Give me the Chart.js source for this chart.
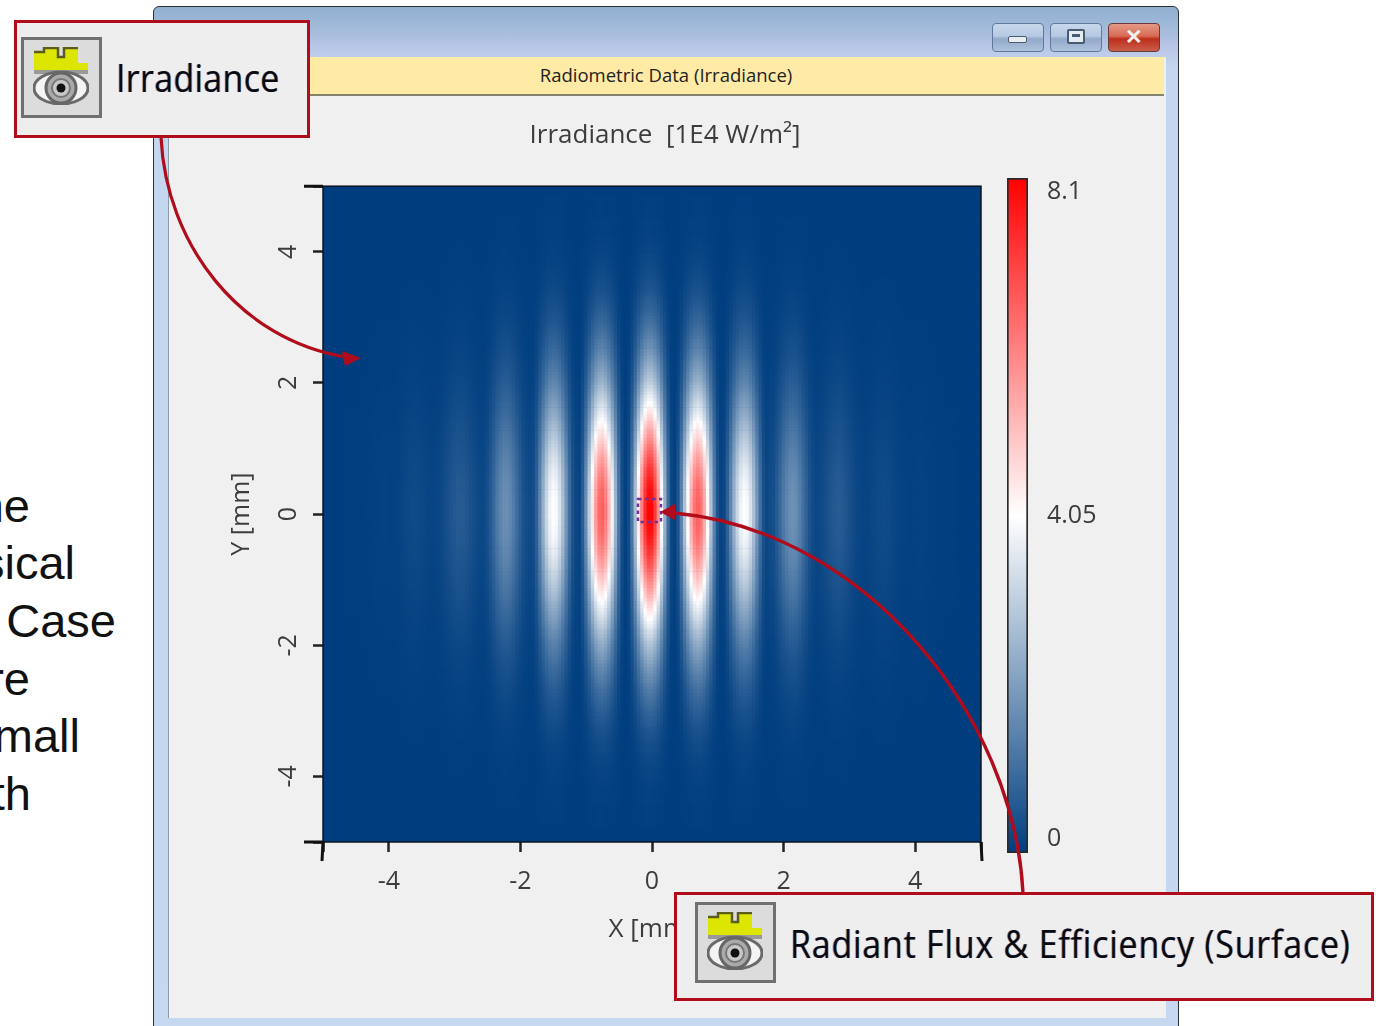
<!DOCTYPE html>
<html>
<head>
<meta charset="utf-8">
<script src="https://cdn.jsdelivr.net/npm/chart.js@4"></script>
<style>
html,body{margin:0;padding:0;background:#fff;width:1383px;height:1026px;overflow:hidden;font-family:"Open Sans",sans-serif}
.abs{position:absolute}
.win{left:153px;top:6px;width:1026px;height:1030px;box-sizing:border-box;border:1.5px solid #2c3136;border-radius:6px 6px 0 0;background:linear-gradient(#8fb0d0 0,#a9bedd 28px,#b7c4e6 38px,#c3d7ee 60px,#c6d8f0 100%)}
.body{left:168px;top:57px;width:997px;height:961px;background:#f0f0f0;border-left:1px solid #8d9aa8}
.strip{left:168px;top:57px;width:996px;height:37px;background:#ffeaa6;border-bottom:2px solid #85836c;text-align:center;font-size:18.5px;line-height:36px;color:#222}
.btn{top:23px;width:52px;height:29px;box-sizing:border-box;border:1.5px solid #5f7a9c;border-radius:4px;background:linear-gradient(#c8d8ec 0,#b5c9e2 45%,#92a9c8 55%,#aec3dc 100%)}
.btn.x{border-color:#6b3a3a;background:linear-gradient(#e59a85 0,#d66a55 45%,#bd2d1c 55%,#c9604a 100%)}
.cut{font-family:"Liberation Sans",sans-serif;font-size:47px;line-height:58px;color:#111;white-space:nowrap}
.box{box-sizing:border-box;border:3.5px solid #b00c1c;background:#eee}
.ico{box-sizing:border-box;border:3px solid #707070;background:#dcdcdc}
.lab{font-family:"Open Sans",sans-serif;font-size:34px;line-height:44px;color:#0a0a14;white-space:nowrap;transform:scaleY(1.14);transform-origin:left center;text-shadow:-.8px 0 rgba(60,120,220,.55),.8px 0 rgba(230,150,60,.55)}
</style>
</head>
<body>
<div class="abs win"></div>
<div class="abs body"></div>
<div class="abs strip">Radiometric Data (Irradiance)</div>
<div class="abs btn" style="left:992px"><div class="abs" style="left:15px;top:12px;width:19px;height:7px;background:#e8edf2;border:1.5px solid #4a5a70;border-radius:2px;box-sizing:border-box"></div></div>
<div class="abs btn" style="left:1050px"><div class="abs" style="left:16px;top:5px;width:18px;height:15px;border:2px solid #4a5a70;background:#e4ebf3;border-radius:2px;box-sizing:border-box"><div style="margin:3px;height:3px;background:#4a5a70"></div></div></div>
<div class="abs btn x" style="left:1108px;color:#f4f0ee;font:bold 21px/26px 'Liberation Sans';text-align:center">✕</div>

<div class="abs cut" style="right:1353px;top:477px">ne</div>
<div class="abs cut" style="right:1308px;top:534px">sical</div>
<div class="abs cut" style="right:1267px;top:592px">Case</div>
<div class="abs cut" style="right:1353px;top:650px">re</div>
<div class="abs cut" style="right:1303px;top:707px">mall</div>
<div class="abs cut" style="right:1352px;top:765px">th</div>

<div class="abs" style="left:227px;top:106px;width:876px;height:839px"><canvas id="mapChart" width="876" height="839"></canvas></div>
<div class="abs" style="left:1000px;top:152px;width:120px;height:727px"><canvas id="barChart" width="120" height="727"></canvas></div>

<svg class="abs" style="left:0;top:0" width="1383" height="1026">
  <defs>
    <symbol id="eye" viewBox="0 0 56 58">
      <path d="M1 5h10V1h14v9h6V1h14v15h10v9H1z" fill="#dce600"/>
      <path d="M1 5h10V1h14v9h6V1h14" fill="none" stroke="#5c5c1c" stroke-width="2.5"/>
      <rect x="1" y="23" width="54" height="4" fill="#999"/>
      <ellipse cx="28" cy="41" rx="27" ry="16" fill="#f4f4f4" stroke="#6a6a6a" stroke-width="3"/>
      <circle cx="28" cy="41" r="15" fill="#aaa" stroke="#666" stroke-width="3"/>
      <circle cx="28" cy="41" r="9" fill="#c8c8c8" stroke="#777" stroke-width="2"/>
      <circle cx="28" cy="41" r="4.5" fill="#111"/>
    </symbol>
  </defs>
  <rect x="638" y="499" width="23" height="23" fill="none" stroke="#7030a0" stroke-width="2.5" stroke-dasharray="3.5 3.5"/>
  <path d="M161 137C166 245 240 340 346 357" fill="none" stroke="#b00c1c" stroke-width="3.2"/>
  <path d="M361 358L342 351L345 366Z" fill="#b00c1c"/>
  <path d="M1023 893C1014 715 865 530 674 513" fill="none" stroke="#b00c1c" stroke-width="3.4"/>
  <path d="M660 512L675 504L675 520Z" fill="#b00c1c"/>
</svg>

<div class="abs box" style="left:14px;top:20px;width:296px;height:118px"></div>
<div class="abs ico" style="left:21px;top:37px;width:81px;height:81px"></div>
<svg class="abs" style="left:33px;top:47px" width="56" height="58"><use href="#eye"/></svg>
<div class="abs lab" style="left:116px;top:55px;letter-spacing:.3px">Irradiance</div>

<div class="abs box" style="left:674px;top:892px;width:700px;height:109px"></div>
<div class="abs ico" style="left:695px;top:902px;width:81px;height:81px"></div>
<svg class="abs" style="left:707px;top:912px" width="56" height="58"><use href="#eye"/></svg>
<div class="abs lab" style="left:790px;top:921px;letter-spacing:.77px">Radiant Flux &amp; Efficiency (Surface)</div>

<script>
// irradiance along y = 0, one value every 0.05 mm from x = -5 to x = 5
const xProfile = [
  .01,.01,.01,.01,.01,.01,.01,.02,.02,.02,.02,.02,.03,.03,.04,.05,.06,.07,.08,.08,
  .07,.07,.08,.10,.14,.18,.22,.25,.25,.24,.21,.18,.15,.13,.14,.17,.22,.30,.38,.47,
  .55,.60,.60,.57,.50,.40,.32,.25,.20,.22,.35,.60,.90,1.25,1.50,1.68,1.70,1.55,1.30,1.00,
  .70,.42,.30,.25,.32,.75,1.53,2.40,3.20,3.79,4.05,3.94,3.47,2.74,1.87,1.04,.45,.20,.15,.65,
  1.70,3.05,4.45,5.65,6.40,6.60,6.16,5.20,3.90,2.50,1.20,.33,.05,.30,1.25,2.70,4.45,6.10,7.40,8.05,
  8.00,7.15,5.80,4.10,2.40,1.00,.20,.08,.47,1.45,2.77,4.18,5.44,6.30,6.60,6.30,5.44,4.18,2.77,1.45,
  .47,.12,.20,.75,1.53,2.40,3.20,3.79,4.05,3.94,3.47,2.74,1.87,1.04,.40,.20,.30,.35,.60,.90,
  1.25,1.50,1.70,1.75,1.65,1.40,1.05,.75,.45,.28,.20,.22,.28,.37,.46,.54,.60,.62,.58,.50,
  .40,.30,.22,.17,.14,.13,.15,.18,.22,.25,.26,.26,.24,.20,.16,.12,.09,.08,.07,.07,
  .08,.09,.09,.08,.07,.05,.04,.03,.03,.02,.02,.02,.02,.01,.01,.01,.01,.01,.01,.01,
  .01
];
// falloff of the fringes with distance from y = 0, one value every 0.05 mm out to 5 mm
const yFalloff = [
  1,1,1,.99,.99,.98,.98,.97,.96,.95,.94,.92,.91,.90,.88,.86,.85,.83,.81,.79,
  .77,.75,.73,.71,.69,.67,.65,.63,.60,.58,.56,.54,.52,.50,.48,.46,.44,.42,.40,.38,
  .36,.345,.33,.315,.30,.285,.27,.255,.24,.23,.215,.205,.195,.18,.17,.16,.15,.14,.13,.125,
  .115,.105,.10,.09,.085,.08,.07,.065,.06,.055,.05,.045,.04,.04,.035,.03,.03,.025,.025,.02,
  .02,.02,.015,.015,.01,.01,.01,.01,.01,.01,.005,.005,.005,.005,.005,.005,.005,0,0,0,
  0
];
const xTicks = [-5,-4,-2,0,2,4,5];
const yTicks = [-5,-4,-2,0,2,4,5];
const barTicks = [0,4.05,8.1];
const barRange = [-0.18,8.28];
const VMAX = 8.1;
const STEP = 0.05;

const LOW = [0,62,127];
const colorOf = v => {
  const t = Math.min(v/VMAX,1);
  if (t <= .5) {
    const k = t*2;
    return `rgb(${Math.round(LOW[0]+(255-LOW[0])*k)},${Math.round(LOW[1]+(255-LOW[1])*k)},${Math.round(LOW[2]+(255-LOW[2])*k)})`;
  }
  const g = Math.round(255*(1-t)*2);
  return `rgb(255,${g},${g})`;
};

const points = [], colors = [];
for (let j = 0; j < 201; j++) {
  const d = Math.min(Math.abs(j-101),100); // fringes are centred a hair above y=0
  for (let i = 0; i < xProfile.length; i++) {
    const v = xProfile[i]*yFalloff[d];
    points.push({x:-5+i*STEP, y:-5+j*STEP});
    colors.push(colorOf(v));
  }
}

const TXT = '#3c3c3c';
const font = {family:'"Open Sans",sans-serif',size:25};

const framePlugin = {
  id:'frame',
  beforeDatasetsDraw(c){
    const a = c.chartArea, ctx = c.ctx;
    ctx.fillStyle = colorOf(0);
    ctx.fillRect(a.left,a.top,a.width,a.height);
  },
  afterDatasetsDraw(c){
    const a = c.chartArea, ctx = c.ctx;
    ctx.save();
    ctx.strokeStyle = '#0a1420'; ctx.lineWidth = 1.5;
    ctx.strokeRect(a.left,a.top,a.width,a.height);
    // long heavy marks at the axis ends
    ctx.strokeStyle = '#111'; ctx.lineWidth = 3;
    ctx.beginPath();
    ctx.moveTo(a.left-19,a.bottom); ctx.lineTo(a.left,a.bottom);
    ctx.moveTo(a.left,a.bottom); ctx.lineTo(a.left-1,a.bottom+19);
    ctx.moveTo(a.left-19,a.top); ctx.lineTo(a.left,a.top);
    ctx.moveTo(a.right,a.bottom); ctx.lineTo(a.right+1,a.bottom+19);
    ctx.stroke();
    ctx.restore();
  }
};

new Chart(document.getElementById('mapChart'), {
  type:'scatter',
  data:{datasets:[{
    data:points,
    pointStyle:'rect',
    pointRadius:2.8,
    pointBorderWidth:0,
    pointBackgroundColor:colors,
    parsing:false,
    normalized:true
  }]},
  options:{
    responsive:false, animation:false, events:[],
    layout:{padding:0},
    plugins:{
      legend:{display:false},
      tooltip:{enabled:false},
      title:{display:true,text:'Irradiance  [1E4 W/m²]',color:TXT,font:{...font,size:26,weight:'400'},padding:{top:14,bottom:35}}
    },
    scales:{
      x:{
        type:'linear',min:-5,max:5,
        afterBuildTicks:s=>{s.ticks = xTicks.map(value=>({value}));},
        afterFit:s=>{s.height = 103;},
        border:{display:false},
        grid:{drawOnChartArea:false,tickLength:10,tickWidth:2.5,tickColor:'#222'},
        ticks:{autoSkip:false,maxRotation:0,minRotation:0,padding:15,color:TXT,font,callback:v=>Math.abs(v)===5?'':String(v)},
        title:{display:true,text:'X [mm]',color:TXT,font:{...font,size:26},padding:0}
      },
      y:{
        type:'linear',min:-5,max:5,
        afterBuildTicks:s=>{s.ticks = yTicks.map(value=>({value}));},
        afterFit:s=>{s.width = 96;},
        border:{display:false},
        grid:{drawOnChartArea:false,tickLength:10,tickWidth:2.5,tickColor:'#222'},
        ticks:{autoSkip:false,minRotation:90,maxRotation:90,crossAlign:'center',padding:13,color:TXT,font,callback:v=>Math.abs(v)===5?'':String(v)},
        title:{display:true,text:'Y [mm]',color:TXT,font,padding:0}
      },
      // empty axis that keeps room for the colour bar, so the title centres over plot + bar
      barRoom:{
        type:'linear',position:'right',
        afterFit:s=>{s.width = 122;},
        border:{display:false},grid:{display:false},ticks:{display:false}
      }
    }
  },
  plugins:[framePlugin]
});

new Chart(document.getElementById('barChart'), {
  type:'bar',
  data:{labels:[''],datasets:[{
    data:[barRange],
    barPercentage:1,categoryPercentage:1,
    borderWidth:2,borderColor:'#2a2a2a',borderSkipped:false,
    backgroundColor:ctx=>{
      const a = ctx.chart.chartArea;
      if (!a) return '#fff';
      const g = ctx.chart.ctx.createLinearGradient(0,a.bottom,0,a.top);
      g.addColorStop(0,colorOf(0));
      g.addColorStop(.5,colorOf(VMAX/2));
      g.addColorStop(1,colorOf(VMAX));
      return g;
    }
  }]},
  options:{
    responsive:false, animation:false, events:[],
    layout:{padding:{left:7,top:10,bottom:10,right:0}},
    plugins:{legend:{display:false},tooltip:{enabled:false}},
    scales:{
      x:{display:false},
      y:{
        position:'right',min:barRange[0],max:barRange[1],bounds:'data',
        afterBuildTicks:s=>{s.ticks = barTicks.map(value=>({value}));},
        afterFit:s=>{s.width = 92;},
        border:{display:false},
        grid:{display:false},
        ticks:{autoSkip:false,padding:11,color:TXT,font,callback:v=>String(v)}
      }
    }
  }
});
</script>
</body>
</html>
